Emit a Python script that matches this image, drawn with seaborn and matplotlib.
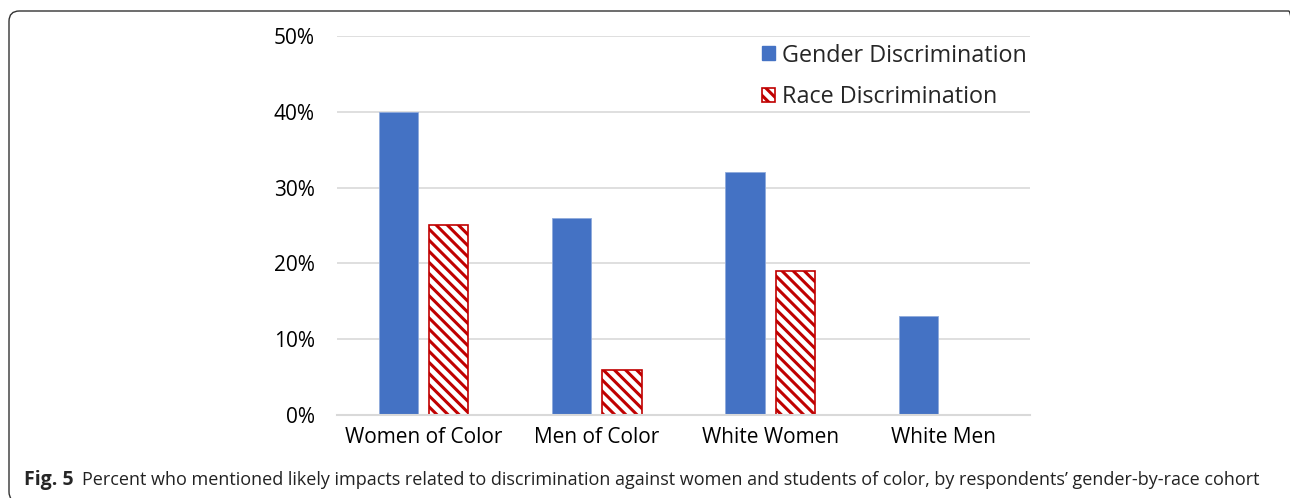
import matplotlib
matplotlib.use("Agg")
import matplotlib.pyplot as plt
import seaborn as sns
import pandas as pd
from matplotlib.patches import Patch, FancyBboxPatch
from matplotlib.ticker import FuncFormatter

categories = ["Women of Color", "Men of Color", "White Women", "White Men"]
gender_values = [40, 26, 32, 13]
race_values = [25, 6, 19, 0]
series = ["Gender Discrimination", "Race Discrimination"]
yticks = [0, 10, 20, 30, 40, 50]

df = pd.DataFrame({
    "cohort": categories * 2,
    "value": gender_values + race_values,
    "series": [series[0]] * len(categories) + [series[1]] * len(categories),
})

sns.set_theme(style="white")
plt.rcParams["font.family"] = ["Open Sans", "DejaVu Sans"]
plt.rcParams["hatch.linewidth"] = 2.2

BLUE = "#4472C4"
RED = "#C00000"

fig = plt.figure(figsize=(12.9, 4.98), dpi=100)
ax = fig.add_axes([0.2612, 0.1667, 0.5372, 0.761])

sns.barplot(data=df, x="cohort", y="value", hue="series", order=categories,
            hue_order=series, palette=[BLUE, "white"], width=0.58, gap=0.22,
            ax=ax, legend=False, errorbar=None, saturation=1)

n = len(categories)
for i, p in enumerate(ax.patches):
    if i < n:
        p.set_edgecolor("#8FAADC")
        p.set_linewidth(0.6)
    else:
        p.set_facecolor("white")
        p.set_edgecolor(RED)
        p.set_hatch("\\\\\\")
        p.set_linewidth(1.2)
        if p.get_height() == 0:
            p.set_visible(False)

ax.set_xlim(-0.5, 3.5)
ax.set_ylim(0, 50)
ax.set_yticks(yticks)
ax.yaxis.set_major_formatter(FuncFormatter(lambda v, _: f"{int(v)}%"))
ax.yaxis.grid(True, color="#D9D9D9", linewidth=1.2)
ax.set_axisbelow(True)
for s in ["left", "right", "top"]:
    ax.spines[s].set_visible(False)
ax.spines["bottom"].set_color("#D9D9D9")
ax.spines["bottom"].set_linewidth(1.5)
ax.set_xlabel("")
ax.set_ylabel("")
ax.tick_params(axis="both", length=0, labelsize=15, colors="black")
ax.tick_params(axis="x", pad=9)
ax.tick_params(axis="y", pad=16)

handles = [Patch(facecolor=BLUE, edgecolor=BLUE),
           Patch(facecolor="white", edgecolor=RED, hatch="\\\\\\", linewidth=1.2)]
ax.legend(handles, series, loc="upper right", bbox_to_anchor=(1.015, 1.017),
          frameon=False, fontsize=16.8, handlelength=0.55, handleheight=0.55,
          handletextpad=0.3, labelspacing=0.75, borderaxespad=0.2)

# journal figure frame (right and bottom edges run past the image edge)
frame = FancyBboxPatch((9 / 1290, -4 / 498), 1290 / 1290, 491 / 498,
                       transform=fig.transFigure,
                       boxstyle="round,pad=0,rounding_size=0.008",
                       facecolor="none", edgecolor="#333333", linewidth=1.0,
                       mutation_aspect=1290 / 498)
fig.add_artist(frame)

fig.text(24 / 1290, 0.026, "Fig. 5", fontsize=14, fontweight="bold",
         ha="left", va="baseline", family=["Open Sans", "DejaVu Sans"])
fig.text(82 / 1290, 0.026,
         "Percent who mentioned likely impacts related to discrimination against women and students of color, by respondents\u2019 gender-by-race cohort",
         fontsize=13.0, ha="left", va="baseline", color="#222222",
         family=["Open Sans", "DejaVu Sans"])

fig.savefig("out.png", dpi=100)
